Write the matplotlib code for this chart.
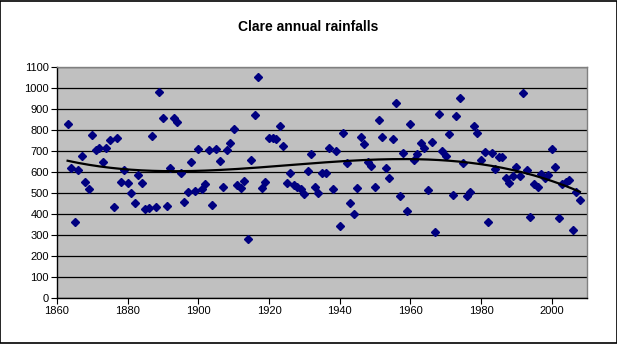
import numpy as np
import matplotlib
matplotlib.use("Agg")
import matplotlib.pyplot as plt
from matplotlib.patches import Rectangle

plt.rcParams['font.family'] = ['Liberation Sans', 'DejaVu Sans']

title = "Clare annual rainfalls"
years = list(range(1863, 2009))
rainfall = [
    830, 619, 362, 611, 676, 552, 521, 776, 703, 716,   # 1863-1872
    649, 714, 752, 433, 762, 552, 611, 548, 500, 452,   # 1873-1882
    587, 548, 424, 429, 771, 433, 981, 857, 440, 619,   # 1883-1892
    857, 838, 594, 457, 505, 648, 510, 710, 521, 543,   # 1893-1902
    705, 444, 710, 654, 529, 705, 738, 805, 538, 524,   # 1903-1912
    557, 281, 659, 871, 1052, 524, 552, 762, 762, 757,  # 1913-1922
    819, 724, 548, 595, 538, 529, 519, 495, 605, 686,   # 1923-1932
    529, 500, 595, 595, 714, 519, 700, 343, 786, 643,   # 1933-1942
    452, 400, 524, 767, 733, 646, 629, 529, 848, 767,   # 1943-1952
    619, 571, 757, 929, 486, 690, 414, 829, 657, 686,   # 1953-1962
    738, 714, 514, 743, 314, 876, 700, 676, 781, 490,   # 1963-1972
    867, 952, 643, 486, 505, 819, 786, 657, 695, 362,   # 1973-1982
    690, 614, 671, 671, 570, 548, 579, 624, 579, 976,   # 1983-1992
    611, 387, 543, 529, 590, 571, 586, 710, 624, 381,   # 1993-2002
    543, 552, 562, 324, 505, 468,                       # 2003-2008
]
x_ticks = list(range(1860, 2001, 20))
y_ticks = list(range(0, 1101, 100))

fig = plt.figure(figsize=(6.17, 3.44), dpi=100)
fig.patch.set_facecolor('white')
fig.patches.append(Rectangle((0.0008, 0.0015), 0.9984, 0.997, transform=fig.transFigure,
                             fill=False, edgecolor='black', linewidth=1.2))

ax = fig.add_axes([57/617, 46/344, 530/617, 231/344])
ax.set_facecolor('#C0C0C0')
ax.set_xlim(1860, 2010)
ax.set_ylim(0, 1100)
ax.set_yticks(y_ticks)
ax.set_xticks(x_ticks)
ax.grid(axis='y', color='black', linewidth=0.9)
ax.set_axisbelow(True)

for side in ['top', 'right']:
    ax.spines[side].set_color('#808080')
    ax.spines[side].set_linewidth(1.0)
for side in ['left', 'bottom']:
    ax.spines[side].set_color('black')
    ax.spines[side].set_linewidth(1.0)

ax.tick_params(axis='both', direction='out', length=4, width=0.8, labelsize=8, colors='black', pad=2)

ax.plot(years, rainfall, linestyle='none', marker='D', markersize=4,
        markerfacecolor='#000080', markeredgecolor='#000080', zorder=3)

yr = np.array(years, dtype=float)
xc = (yr - yr.mean()) / 50.0
coef = np.polyfit(xc, np.array(rainfall, dtype=float), 3)
trend = np.polyval(coef, xc)
ax.plot(years, trend, color='black', linewidth=1.6, zorder=4)

fig.text(0.5, 1 - 27/344, title, ha='center', va='center', fontsize=10, fontweight='bold')

fig.savefig('out.png', dpi=100)
